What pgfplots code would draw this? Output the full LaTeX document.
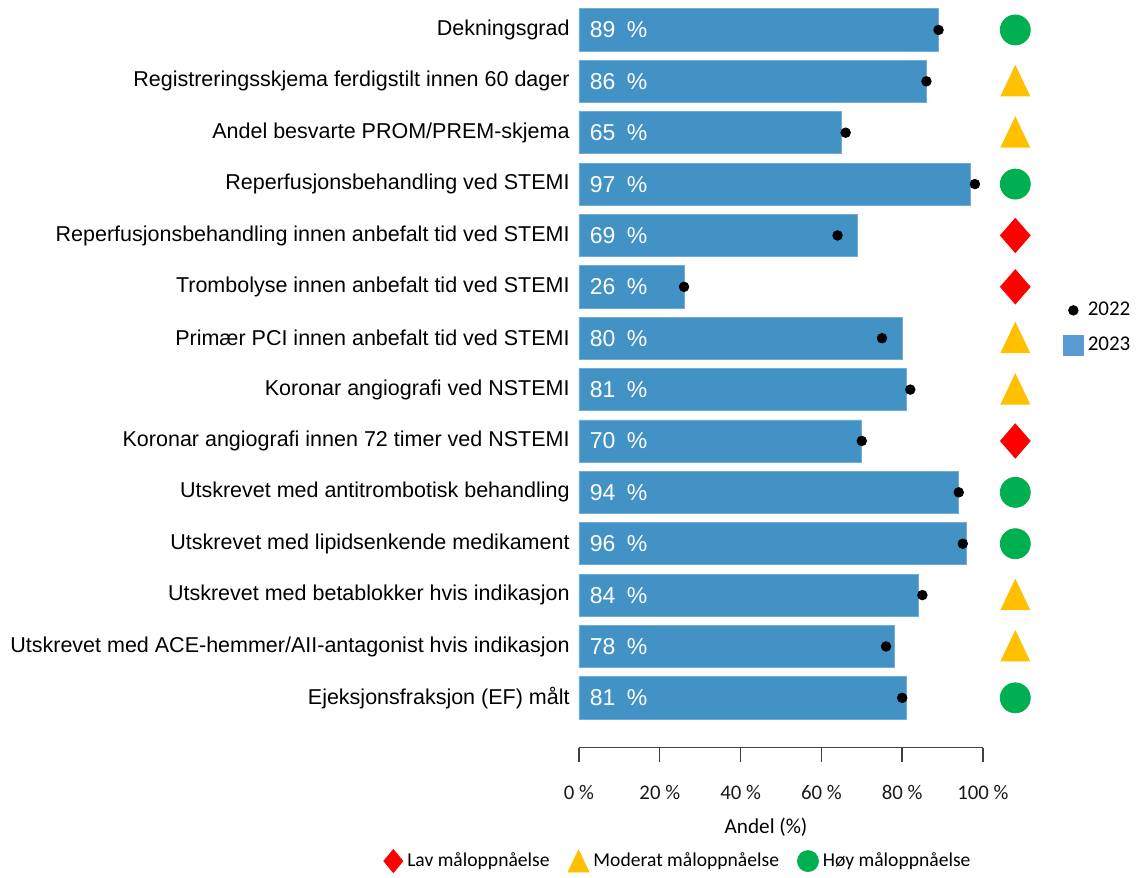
\documentclass[border=0pt]{standalone}
\usepackage{fontspec}
\setmainfont{Liberation Sans}
\newfontfamily\calfont{Carlito}
\usepackage{pgfplots}
\usepackage{pgfplotstable}
\pgfplotsset{compat=1.18}

\definecolor{bar23}{RGB}{66,146,198}
\definecolor{leg23}{RGB}{91,155,213}
\definecolor{hoy}{RGB}{0,176,80}
\definecolor{mod}{RGB}{255,192,0}
\definecolor{lav}{RGB}{255,0,0}

% marks for the goal symbols: a diamond as wide as tall, a slightly tall triangle
\pgfdeclareplotmark{rdiamond}{%
  \pgfpathmoveto{\pgfqpoint{0pt}{1.15\pgfplotmarksize}}%
  \pgfpathlineto{\pgfqpoint{\pgfplotmarksize}{0pt}}%
  \pgfpathlineto{\pgfqpoint{0pt}{-1.15\pgfplotmarksize}}%
  \pgfpathlineto{\pgfqpoint{-\pgfplotmarksize}{0pt}}%
  \pgfpathclose\pgfusepathqfill}
\pgfdeclareplotmark{ttri}{%
  \pgfpathmoveto{\pgfqpoint{0pt}{1.1\pgfplotmarksize}}%
  \pgfpathlineto{\pgfqpoint{\pgfplotmarksize}{-\pgfplotmarksize}}%
  \pgfpathlineto{\pgfqpoint{-\pgfplotmarksize}{-\pgfplotmarksize}}%
  \pgfpathclose\pgfusepathqfill}

% rows from bottom to top, idx = position on the y axis
\pgfplotstableread[col sep=comma]{
idx,label,v23,v22,sym
0,Ejeksjonsfraksjon (EF) målt,81,80,H
1,Utskrevet med ACE-hemmer/AII-antagonist hvis indikasjon,78,76,M
2,Utskrevet med betablokker hvis indikasjon,84,85,M
3,Utskrevet med lipidsenkende medikament,96,95,H
4,Utskrevet med antitrombotisk behandling,94,94,H
5,Koronar angiografi innen 72 timer ved NSTEMI,70,70,L
6,Koronar angiografi ved NSTEMI,81,82,M
7,Primær PCI innen anbefalt tid ved STEMI,80,75,M
8,Trombolyse innen anbefalt tid ved STEMI,26,26,L
9,Reperfusjonsbehandling innen anbefalt tid ved STEMI,69,64,L
10,Reperfusjonsbehandling ved STEMI,97,98,H
11,Andel besvarte PROM/PREM-skjema,65,66,M
12,Registreringsskjema ferdigstilt innen 60 dager,86,86,M
13,Dekningsgrad,89,89,H
}\indik

\begin{document}
\begin{tikzpicture}
\begin{axis}[
  name=main,
  scale only axis,
  width=202pt, height=373pt,
  xmin=0, xmax=100,
  ymin=-0.97, ymax=13.55,
  clip=false,
  axis x line=bottom,
  axis y line=left,
  x axis line style={-, black!75, line width=0.7pt},
  y axis line style={draw=none},
  xtick={0,20,...,100},
  ytick={0,...,13},
  yticklabels from table={\indik}{label},
  ytick style={draw=none},
  tick align=outside,
  major tick length=7pt,
  xtick style={black!75, line width=0.7pt},
  /pgf/number format/assume math mode=true,
  xticklabel={\pgfmathprintnumber{\tick} \%},
  xticklabel style={font=\calfont\fontsize{10.4}{12}\selectfont, text=black!90, anchor=north, inner sep=0pt, yshift=-11.5pt},
  yticklabel style={font=\fontsize{10.75}{13}\selectfont, anchor=east, inner sep=0pt, xshift=2.5pt},
  xlabel={Andel (\%)},
  xlabel style={font=\calfont\fontsize{10.6}{12}\selectfont, at={(0.463,0)}, anchor=center, yshift=-40pt},
  legend style={at={(1.197,0.563)}, anchor=west, draw=none, fill=none, inner sep=0pt,
    row sep=5pt, font=\calfont\fontsize{10.5}{12}\selectfont},
  legend cell align=left,
]
\addplot[xbar, bar width=0.82, fill=bar23, draw=bar23!75!white, line width=0.4pt, forget plot]
  table[x=v23, y=idx] {\indik};
\addplot[draw=none, forget plot, point meta=explicit,
  nodes near coords={\pgfmathprintnumber{\pgfplotspointmeta}\hspace{0.5em}\%},
  every node near coord/.append style={anchor=west, inner sep=0pt, text=white, font=\fontsize{11.5}{13}\selectfont}]
  table[x expr=2.6, y=idx, meta=v23] {\indik};
\addplot[only marks, mark=*, mark size=2.4pt, black, forget plot]
  table[x=v22, y=idx] {\indik};
\addplot[scatter, only marks, forget plot, scatter src=explicit symbolic,
  scatter/classes={
    H={mark=*, mark size=7.5pt, hoy},
    M={mark=ttri, mark size=7.5pt, mod},
    L={mark=rdiamond, mark size=7.7pt, lav}}]
  table[x expr=108, y=idx, meta=sym] {\indik};

\addlegendimage{legend image code/.code={\fill[black] (5pt,0) circle (2.4pt);}}
\addlegendentry{2022}
\addlegendimage{legend image code/.code={\fill[leg23] (0,-5pt) rectangle (10pt,5pt);}}
\addlegendentry{2023}
\end{axis}

\begin{axis}[
  scale only axis, width=202pt, height=373pt,
  hide axis, xmin=0, xmax=1, ymin=0, ymax=1,
  legend columns=3,
  legend style={at={(0.2475,-0.152)}, anchor=center, draw=none, fill=none, inner sep=0pt,
    font=\calfont\fontsize{9.8}{12}\selectfont,
    /tikz/every even column/.append style={column sep=7pt}},
]
\addlegendimage{legend image code/.code={\fill[lav] (4.75pt,5.75pt) -- (9.5pt,0) -- (4.75pt,-5.75pt) -- (0,0) -- cycle;}}
\addlegendentry{Lav måloppnåelse}
\addlegendimage{legend image code/.code={\fill[mod] (0,-5.5pt) -- (10.5pt,-5.5pt) -- (5.25pt,5.5pt) -- cycle;}}
\addlegendentry{Moderat måloppnåelse}
\addlegendimage{legend image code/.code={\fill[hoy] (5.25pt,0) circle (5.25pt);}}
\addlegendentry{Høy måloppnåelse}
\end{axis}

\path (-289.5pt,-65pt) rectangle (281.5pt,373.85pt);
\end{tikzpicture}
\end{document}
